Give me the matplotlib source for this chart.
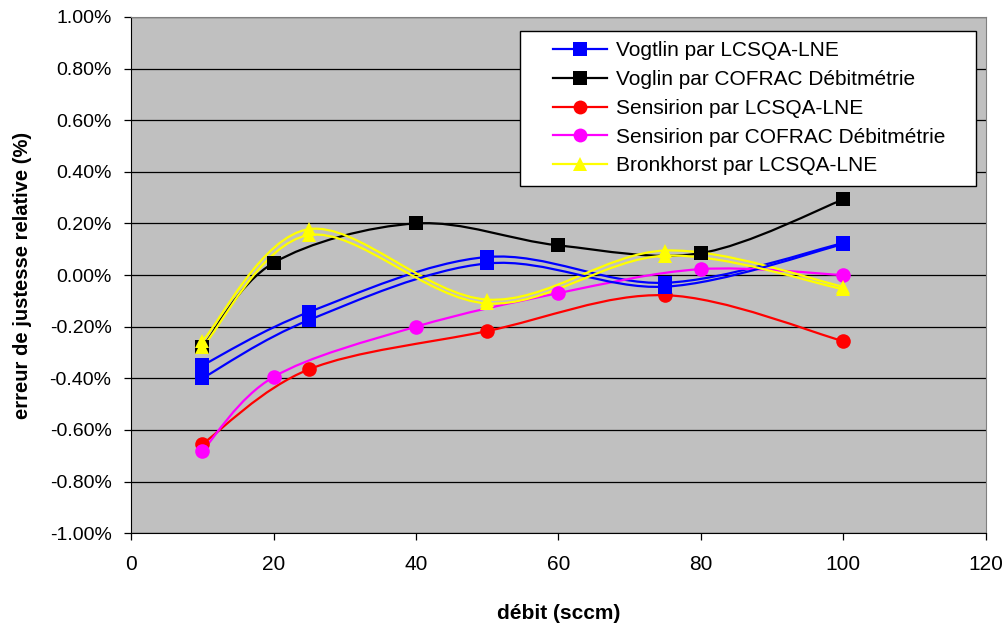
import numpy as np
import matplotlib.pyplot as plt
from matplotlib.path import Path
from matplotlib.patches import PathPatch
from matplotlib.lines import Line2D
from matplotlib.legend_handler import HandlerLine2D
from matplotlib.ticker import FuncFormatter

plt.rcParams['font.family'] = ['Liberation Sans', 'DejaVu Sans']

# data (relative error in %)
x_vog = [10, 25, 50, 75, 100]
vog_lne_a = [-0.35, -0.143, 0.07, -0.03, 0.124]
vog_lne_b = [-0.40, -0.174, 0.045, -0.045, 0.12]

x_vog_cof = [10, 20, 40, 60, 80, 100]
vog_cof = [-0.28, 0.047, 0.20, 0.115, 0.085, 0.293]

x_sen = [10, 25, 50, 75, 100]
sen_lne = [-0.655, -0.365, -0.217, -0.078, -0.256]

x_sen_cof = [10, 20, 40, 60, 80, 100]
sen_cof = [-0.682, -0.395, -0.20, -0.07, 0.023, 0.0]

x_bro = [10, 25, 50, 75, 100]
bro_lne_a = [-0.256, 0.178, -0.095, 0.095, -0.045]
bro_lne_b = [-0.28, 0.155, -0.11, 0.075, -0.055]

labels = ["Vogtlin par LCSQA-LNE", "Voglin par COFRAC Débitmétrie",
          "Sensirion par LCSQA-LNE", "Sensirion par COFRAC Débitmétrie",
          "Bronkhorst par LCSQA-LNE"]


def smooth_path(xs, ys):
    # Excel-like smoothed line: cubic bezier with catmull-rom control points
    p = np.column_stack([xs, ys]).astype(float)
    n = len(p)
    verts = [p[0]]
    codes = [Path.MOVETO]
    for i in range(n - 1):
        p0 = p[i - 1] if i > 0 else p[i]
        p3 = p[i + 2] if i + 2 < n else p[i + 1]
        c1 = p[i] + (p[i + 1] - p0) / 6.0
        c2 = p[i + 1] - (p3 - p[i]) / 6.0
        verts += [c1, c2, p[i + 1]]
        codes += [Path.CURVE4] * 3
    return Path(verts, codes)


def draw(ax, xs, ys, color, marker, ms):
    ax.add_patch(PathPatch(smooth_path(xs, ys), fill=False, edgecolor=color,
                           lw=1.6, transform=ax.transData, zorder=3))
    ax.plot(xs, ys, linestyle='none', marker=marker, color=color,
            markersize=ms, markeredgewidth=0, zorder=4)


def pct(v, _):
    if abs(v) < 1e-9:
        v = 0.0
    return '{:.2f}%'.format(v)


fig = plt.figure(figsize=(10.08, 6.28), dpi=100)
ax = fig.add_axes([0.130, 0.151, 0.848, 0.822])
ax.set_facecolor('#C0C0C0')

draw(ax, x_vog, vog_lne_a, '#0000FF', 's', 10)
draw(ax, x_vog_cof, vog_cof, '#000000', 's', 10)
draw(ax, x_sen, sen_lne, '#FF0000', 'o', 10.5)
draw(ax, x_sen_cof, sen_cof, '#FF00FF', 'o', 10.5)
draw(ax, x_bro, bro_lne_a, '#FFFF00', '^', 10.5)
draw(ax, x_vog, vog_lne_b, '#0000FF', 's', 10)
draw(ax, x_bro, bro_lne_b, '#FFFF00', '^', 10.5)

ax.set_xlim(0, 120)
ax.set_ylim(-1, 1)
ax.set_xticks(np.arange(0, 121, 20))
ax.set_yticks(np.arange(-1, 1.01, 0.2))
ax.yaxis.set_major_formatter(FuncFormatter(pct))
ax.yaxis.grid(True, color='black', lw=0.9)
ax.set_axisbelow(True)
ax.tick_params(length=5, width=0.9, direction='out')
ax.tick_params(axis='y', labelsize=14, pad=9)
ax.tick_params(axis='x', labelsize=15, pad=11)
for s in ['top', 'right']:
    ax.spines[s].set_color('#808080')
for s in ['left', 'bottom']:
    ax.spines[s].set_color('black')

ax.set_xlabel('débit (sccm)', fontsize=15, fontweight='bold', labelpad=21)
ax.set_ylabel('erreur de justesse relative (%)', fontsize=14.5,
              fontweight='bold', labelpad=12.5)

colors = ['#0000FF', '#000000', '#FF0000', '#FF00FF', '#FFFF00']
markers = ['s', 's', 'o', 'o', '^']
handles = [Line2D([], [], color=c, marker=m, lw=1.6, markersize=10,
                  markeredgewidth=0) for c, m in zip(colors, markers)]
leg = ax.legend(handles, labels, loc='upper left',
                bbox_to_anchor=(0.455, 0.6705, 0.534, 0.3025), mode='expand',
                fontsize=15, frameon=True, fancybox=False, framealpha=1,
                edgecolor='black', handlelength=3.7, handletextpad=0.4,
                labelspacing=0.47, borderpad=0.5, borderaxespad=0,
                handler_map={Line2D: HandlerLine2D(xpad=1.1)})
leg.get_frame().set_linewidth(1.0)
leg.set_zorder(10)

fig.savefig('out.png', dpi=100)
